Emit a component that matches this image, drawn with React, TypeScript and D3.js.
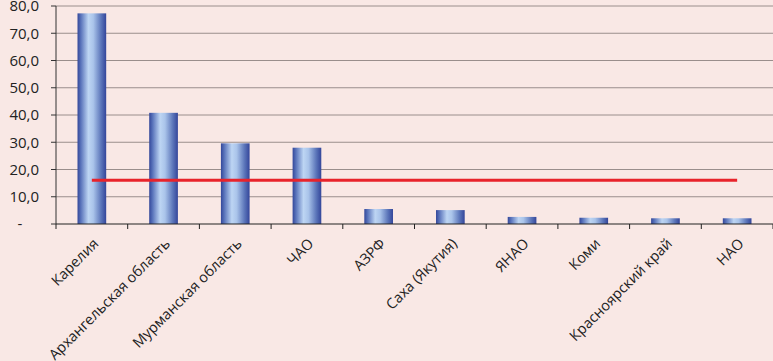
import React from "react";
import { scaleBand, scaleLinear } from "d3";

const categories = [
  "Карелия",
  "Архангельская область",
  "Мурманская область",
  "ЧАО",
  "АЗРФ",
  "Саха (Якутия)",
  "ЯНАО",
  "Коми",
  "Красноярский край",
  "НАО",
];
const values = [77.3, 40.8, 29.6, 28.0, 5.5, 5.1, 2.6, 2.3, 2.1, 2.1];
const average = 16.1;
const yTicks = [0, 10, 20, 30, 40, 50, 60, 70, 80];

const W = 773;
const H = 361;
const margin = { top: 6, right: 0, bottom: 137, left: 56 };

function fmt(v: number) {
  return v === 0 ? "-" : v.toFixed(1).replace(".", ",");
}

export default function App() {
  const x = scaleBand<string>()
    .domain(categories)
    .range([margin.left, W - margin.right])
    .paddingInner(0.6)
    .paddingOuter(0.3);
  const band = scaleBand<string>().domain(categories).range([margin.left, W - margin.right]);
  const y = scaleLinear().domain([0, 80]).range([H - margin.bottom, margin.top]);
  const y0 = y(0);
  const center = (c: string) => (band(c) as number) + band.bandwidth() / 2;

  return (
    <div style={{ position: "fixed", left: 0, top: 0 }}>
      <svg width={W} height={H} style={{ display: "block" }} fontFamily="'Open Sans', sans-serif">
        <defs>
          <linearGradient id="barGrad" x1="0" x2="1" y1="0" y2="0">
            <stop offset="0%" stopColor="#33479a" />
            <stop offset="12%" stopColor="#5a74bb" />
            <stop offset="38%" stopColor="#bdd5f3" />
            <stop offset="55%" stopColor="#aac4ea" />
            <stop offset="82%" stopColor="#5c76ba" />
            <stop offset="100%" stopColor="#33459a" />
          </linearGradient>
        </defs>
        <rect width={W} height={H} fill="#f9e8e5" />

        {yTicks.map((t) => (
          <g key={t}>
            {t > 0 && (
              <line x1={margin.left} x2={W} y1={y(t)} y2={y(t)} stroke="#9a8e8c" strokeWidth={1} />
            )}
            <line x1={margin.left - 5} x2={margin.left} y1={y(t)} y2={y(t)} stroke="#333" />
            <text
              x={t === 0 ? 20 : 39}
              y={y(t)}
              dy="0.35em"
              textAnchor={t === 0 ? "middle" : "end"}
              fontSize={15}
              fill="#222"
            >
              {fmt(t)}
            </text>
          </g>
        ))}

        {categories.map((c, i) => (
          <rect
            key={c}
            x={x(c)}
            y={y(values[i])}
            width={x.bandwidth()}
            height={y0 - y(values[i])}
            fill="url(#barGrad)"
          />
        ))}

        <line
          x1={center(categories[0])}
          x2={center(categories[categories.length - 1])}
          y1={y(average)}
          y2={y(average)}
          stroke="#e8232b"
          strokeWidth={3}
        />

        <line x1={margin.left} x2={margin.left} y1={margin.top} y2={y0} stroke="#333" />
        <line x1={margin.left} x2={W} y1={y0} y2={y0} stroke="#222" strokeWidth={1.2} />
        {categories.map((c) => (
          <line key={c} x1={band(c)! + band.bandwidth()} x2={band(c)! + band.bandwidth()} y1={y0} y2={y0 + 5} stroke="#222" />
        ))}
        <line x1={margin.left} x2={margin.left} y1={y0} y2={y0 + 5} stroke="#222" />

        {categories.map((c) => (
          <text
            key={c}
            transform={`translate(${center(c) + 4},${y0 + 17}) rotate(-45)`}
            textAnchor="end"
            dy="0.35em"
            fontSize={14.5}
            fill="#222"
          >
            {c}
          </text>
        ))}
      </svg>
    </div>
  );
}
